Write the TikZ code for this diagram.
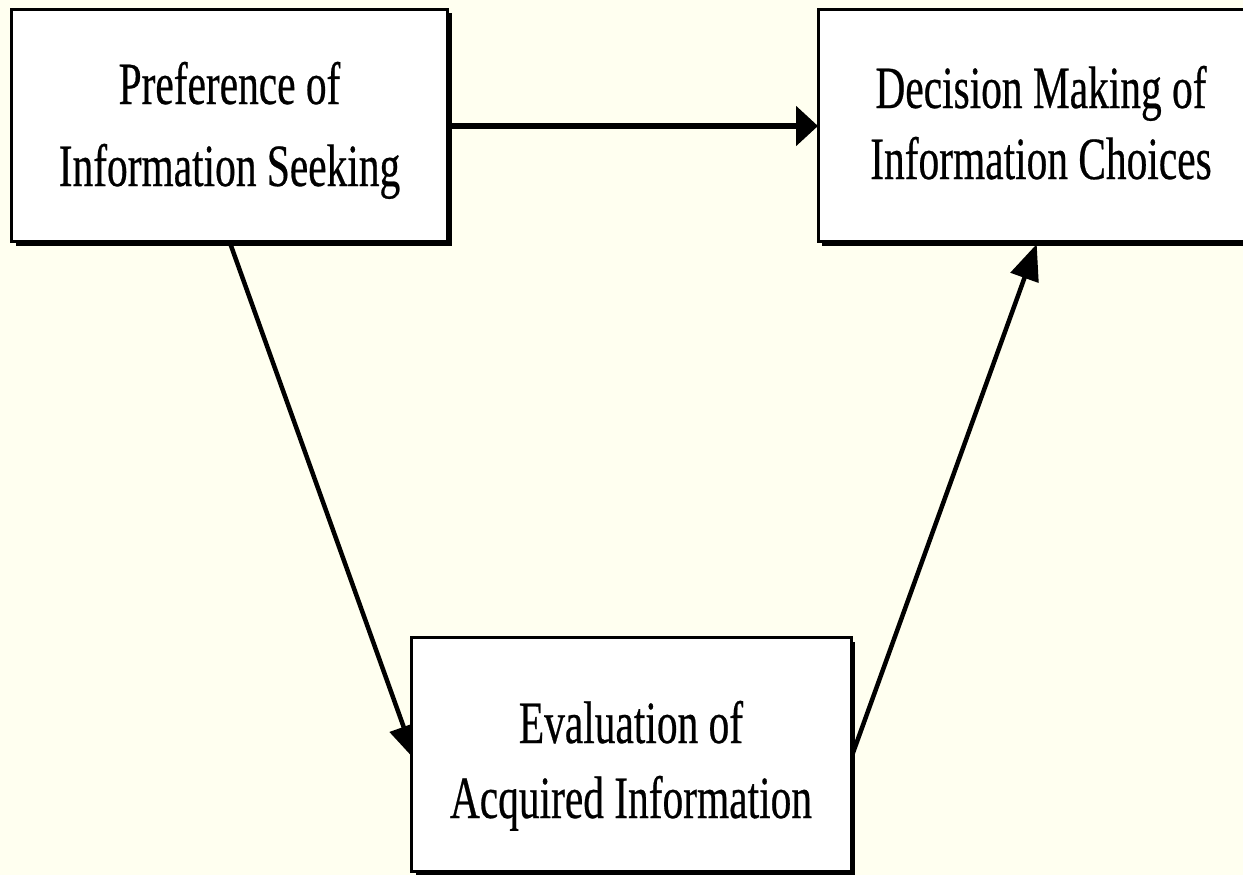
\documentclass[tikz,border=0pt]{standalone}
\usepackage{fontspec}
\setmainfont{Liberation Serif}
\newfontfamily\narrowserif[FakeStretch=0.69,FakeBold=0.4]{Liberation Serif}
\usetikzlibrary{arrows.meta,shadows,calc}
\definecolor{paper}{HTML}{FFFFF0}
\begin{document}
\begin{tikzpicture}[x=1pt,y=-1pt,
  box/.style={draw=black, line width=3pt, fill=white, inner sep=0pt,
    drop shadow={shadow xshift=4pt, shadow yshift=-4pt, fill=black, opacity=1}},
  boxtext/.style={align=center, inner sep=0pt, text=black},
  link/.style={draw=black, line width=4.5pt, -{Triangle[length=36pt,width=29pt]}},
  mainlink/.style={draw=black, line width=6pt, -{Triangle[length=22pt,width=39pt]}},
]
% page
\fill[paper] (0,0) rectangle (1243,875);
\useasboundingbox (0,0) rectangle (1243,875);

% box outlines placed first so the connectors can refer to them
\path (229.5,125.5) node[minimum width=436pt, minimum height=232pt, inner sep=0pt, outer sep=0pt] (pref) {};
\path (1043,125.5) node[minimum width=450pt, minimum height=232pt, inner sep=0pt, outer sep=0pt] (dec) {};
\path (631.25,754.25) node[minimum width=439.5pt, minimum height=233.5pt, inner sep=0pt, outer sep=0pt] (eval) {};

% arrow tips that disappear under the boxes
\coordinate (evalin) at ($(eval.west)+(4.3,6.5)$);
\coordinate (evalout) at ($(eval.east)+(0,4)$);
\coordinate (decin) at ($(dec.south)+(-6.3,2.5)$);

% connectors
\draw[mainlink] (pref.east |- 0,126) -- (dec.west |- 0,126);
\draw[link] (pref.south) -- (evalin);
\draw[link] (evalout) -- (decin);

% boxes
\node[box, minimum width=436pt, minimum height=232pt] (prefbox) at (pref.center) {};
\node[box, minimum width=450pt, minimum height=232pt] (decbox) at (dec.center) {};
\node[box, minimum width=439.5pt, minimum height=233.5pt] (evalbox) at (eval.center) {};

% texts
\node[boxtext, font=\narrowserif\fontsize{60}{82}\selectfont] (preftext) at (229.5,130)
  {\rule{0pt}{44pt}Preference of\\Information Seeking\rule[-14pt]{0pt}{14pt}};
\node[boxtext, font=\narrowserif\fontsize{60}{71}\selectfont] (dectext) at (1041,128.5)
  {\rule{0pt}{44pt}Decision Making of\\Information Choices\rule[-14pt]{0pt}{14pt}};
\node[boxtext, font=\narrowserif\fontsize{60}{75}\selectfont] (evaltext) at (631,765.5)
  {\rule{0pt}{44pt}Evaluation of\\Acquired Information\rule[-14pt]{0pt}{14pt}};
\end{tikzpicture}
\end{document}
